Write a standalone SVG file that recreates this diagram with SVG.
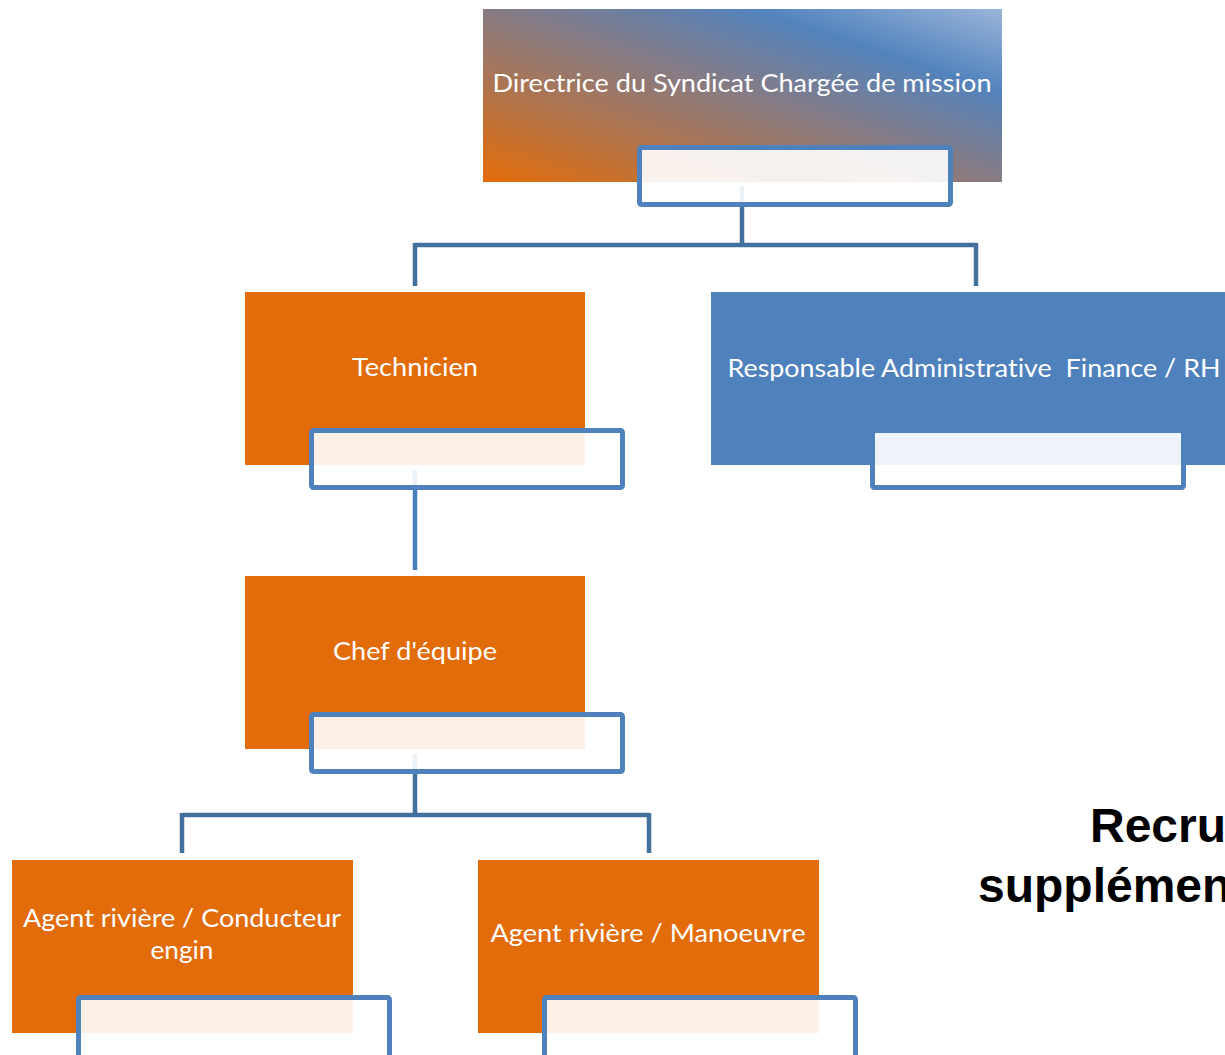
<svg xmlns="http://www.w3.org/2000/svg" width="1225" height="1055" viewBox="0 0 1225 1055">
<style>
.orange{fill:#e36c0a}
.blue{fill:#4f81bd}
.sub{fill:#ffffff;fill-opacity:0.9;stroke:#4f81bd;stroke-width:5}
.lbl{fill:#ffffff;font-family:Lato,"Open Sans",sans-serif;font-size:25px;text-anchor:middle;font-variant-ligatures:none}
.conn{fill:none;stroke:#41719c;stroke-width:4.5}
.conn2{fill:none;stroke:#4a7ebb;stroke-width:4.5}
.big{fill:#000000;font-family:"Liberation Sans",Arial,sans-serif;font-weight:bold;font-size:48px}
</style>
<defs>
<linearGradient id="topGrad" x1="0" y1="1" x2="1" y2="0">
<stop offset="0" stop-color="#e36c09"/>
<stop offset="0.5" stop-color="#877b83"/>
<stop offset="0.76" stop-color="#5383bd"/>
<stop offset="1" stop-color="#9ab5da"/>
</linearGradient>
</defs>
<rect width="1225" height="1055" fill="#ffffff"/>

<g id="connectors">
<path class="conn" d="M742 186 V245 M415 245 H976 M415 243 V286 M976 243 V286"/>
<path class="conn2" d="M415 470 V570"/>
<path class="conn" d="M415 754 V815 M182 815 H649 M182 813 V853 M649 813 V853"/>
</g>

<g id="node-directrice">
<rect x="483" y="9" width="519" height="173" fill="url(#topGrad)"/>
<text class="lbl" x="742" y="92" textLength="499" lengthAdjust="spacingAndGlyphs">Directrice du Syndicat Chargée de mission</text>
<rect class="sub" x="639.5" y="147.5" width="311" height="57" rx="2"/>
</g>

<g id="node-technicien">
<rect class="orange" x="245" y="292" width="340" height="173"/>
<text class="lbl" x="415" y="376" textLength="126" lengthAdjust="spacingAndGlyphs">Technicien</text>
<rect class="sub" x="311.5" y="430.5" width="311" height="57" rx="2"/>
</g>

<g id="node-responsable">
<rect class="blue" x="711" y="292" width="528" height="173"/>
<text class="lbl" x="974" y="377" textLength="493" lengthAdjust="spacingAndGlyphs">Responsable Administrative&#160; Finance / RH</text>
<rect class="sub" x="872.5" y="430.5" width="311" height="57" rx="2"/>
</g>

<g id="node-chef">
<rect class="orange" x="245" y="576" width="340" height="173"/>
<text class="lbl" x="415" y="660" textLength="164" lengthAdjust="spacingAndGlyphs">Chef d'équipe</text>
<rect class="sub" x="311.5" y="714.5" width="311" height="57" rx="2"/>
</g>

<g id="node-conducteur">
<rect class="orange" x="12" y="860" width="341" height="173"/>
<text class="lbl" x="182" y="927" textLength="318" lengthAdjust="spacingAndGlyphs">Agent rivière / Conducteur</text>
<text class="lbl" x="182" y="959" textLength="63" lengthAdjust="spacingAndGlyphs">engin</text>
<rect class="sub" x="78.5" y="997.5" width="311" height="65" rx="2"/>
</g>

<g id="node-manoeuvre">
<rect class="orange" x="478" y="860" width="341" height="173"/>
<text class="lbl" x="648" y="942" textLength="315" lengthAdjust="spacingAndGlyphs">Agent rivière / Manoeuvre</text>
<rect class="sub" x="544.5" y="997.5" width="311" height="65" rx="2"/>
</g>

<text class="big" x="1090" y="842">Recru</text>
<text class="big" x="978" y="902">supplémen</text>
</svg>
